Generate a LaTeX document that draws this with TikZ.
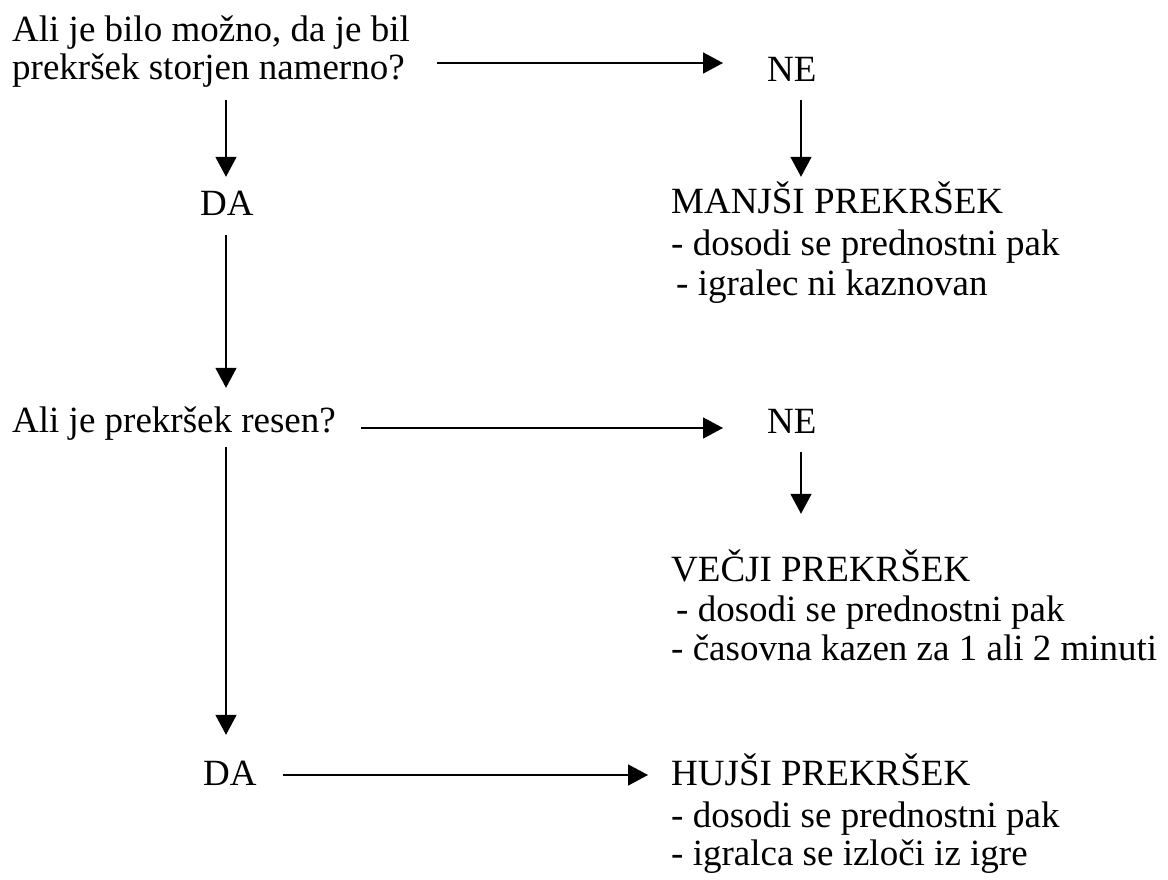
\documentclass[tikz,border=0pt]{standalone}
\usepackage{fontspec}
\setmainfont{Liberation Serif}
\usetikzlibrary{arrows.meta}
\begin{document}
\begin{tikzpicture}[x=1pt,y=-1pt,
  txt/.style={anchor=base west,inner sep=0pt,text height=26pt,text depth=9pt,
    font=\fontsize{37}{40}\selectfont},
  arr/.style={line width=1.6pt,-{Triangle[length=20pt,width=21pt]}}]
\useasboundingbox (0,0) rectangle (1168,880);
\coordinate (colL) at (226,0);
\coordinate (colR) at (801,0);
% left column
\node[txt] (q1a) at (12,42) {Ali je bilo možno, da je bil};
\node[txt] (q1b) at (12,80) {prekršek storjen namerno?};
\node[txt] (da1) at (200,215) {DA};
\node[txt] (q2) at (12,432) {Ali je prekršek resen?};
\node[txt] (da2) at (203,785) {DA};
% right column
\node[txt] (ne1) at (767,82) {NE};
\node[txt] (m0) at (671,213) {MANJŠI PREKRŠEK};
\node[txt] (m1) at (671,255) {- dosodi se prednostni pak};
\node[txt] (m2) at (676,295) {- igralec ni kaznovan};
\node[txt] (ne2) at (767,433) {NE};
\node[txt] (v0) at (671,581) {VEČJI PREKRŠEK};
\node[txt] (v1) at (676,621) {- dosodi se prednostni pak};
\node[txt] (v2) at (671,660) {- časovna kazen za 1 ali 2 minuti};
\node[txt] (h0) at (671,785) {HUJŠI PREKRŠEK};
\node[txt] (h1) at (671,827) {- dosodi se prednostni pak};
\node[txt] (h2) at (671,865) {- igralca se izloči iz igre};
% connectors
\draw[arr,shorten <=32pt,shorten >=44pt] ([yshift=8.5pt]q1b.east) -- ([yshift=8.5pt]q1b.east -| ne1.west);
\draw[arr,shorten <=9pt,shorten >=10pt] (ne1.south -| colR) -- (m0.north -| colR);
\draw[arr,shorten <=11pt,shorten >=12pt] (q1b.south -| colL) -- (da1.north -| colL);
\draw[arr,shorten <=11pt,shorten >=18pt] (da1.south -| colL) -- (q2.north -| colL);
\draw[arr,shorten <=25pt,shorten >=44pt] ([yshift=-4.5pt]q2.east) -- ([yshift=-4.5pt]q2.east -| ne2.west);
\draw[arr,shorten <=10pt,shorten >=41pt] (ne2.south -| colR) -- (v0.north -| colR);
\draw[arr,shorten <=6pt,shorten >=24pt] (q2.south -| colL) -- (da2.north -| colL);
\draw[arr,shorten <=26pt,shorten >=23pt] ([yshift=1.5pt]da2.east) -- ([yshift=1.5pt]da2.east -| h0.west);
\end{tikzpicture}
\end{document}
